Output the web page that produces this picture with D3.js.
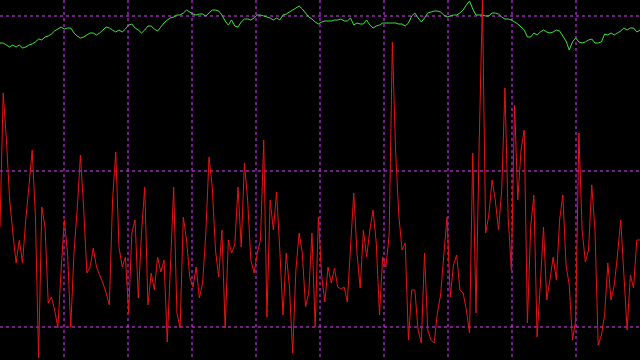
<!DOCTYPE html>
<html>
<head>
<meta charset="utf-8">
<script src="https://cdn.jsdelivr.net/npm/d3@7"></script>
<style>
  html, body { margin: 0; padding: 0; background: #000; }
  svg { display: block; }
</style>
</head>
<body>
<svg id="chart" width="640" height="360"></svg>
<script>
// Amplitude samples (arbitrary units); 200 evenly spaced samples over 10 divisions
const redSeries = [
  100,234,187,127,94,64,87,64,107,141,177,112,-31,120,100,24,30,17,-1,57,
  107,74,0,74,117,172,120,54,60,79,60,52,44,34,22,127,175,80,60,70,
  14,94,107,29,94,140,22,54,37,70,55,67,-15,60,140,14,-1,110,87,50,
  40,60,29,44,94,170,140,77,50,97,-1,87,74,82,140,80,164,127,67,54,
  74,87,187,10,127,97,135,77,12,74,40,-26,57,94,74,20,34,94,0,110,
  52,25,60,44,59,40,38,40,25,80,134,74,39,97,70,97,117,84,12,70,
  60,92,285,177,112,77,84,-13,37,37,-3,-16,74,-3,-13,-16,14,32,72,110,
  30,62,72,37,34,17,-6,174,14,184,327,94,112,147,127,97,137,239,110,57,
  222,127,177,197,4,100,132,-10,42,100,27,47,70,47,107,132,62,42,-13,7,
  194,97,65,77,142,97,-18,-8,12,64,27,42,72,107,52,-3,52,39,87,87
];
const greenSeries = [
  284,284,282,280,282,280,282,279,280,282,283,285,288,287,290,291,293,296,298,300,
  298,299,299,294,291,289,290,292,294,294,292,294,297,300,299,297,295,297,295,298,
  302,303,299,297,294,297,301,301,298,296,300,304,307,309,310,312,312,314,317,315,
  313,312,313,313,311,314,317,317,316,312,306,302,307,301,300,305,308,308,307,309,
  312,312,311,310,309,307,309,307,312,313,315,317,319,321,318,314,310,308,305,303,
  305,306,306,306,307,307,308,306,306,309,302,304,303,303,307,302,299,301,302,304,
  304,304,304,304,303,303,301,304,311,314,309,305,309,314,315,316,316,315,312,310,
  311,312,312,314,317,322,326,318,312,312,312,311,311,314,314,313,310,308,308,307,
  305,303,300,297,290,290,294,292,295,297,295,294,295,297,296,291,286,277,285,289,
  285,284,285,287,288,284,284,285,293,292,294,292,294,296,299,297,299,299,295,297
];
// Grid positions
const xDivisions = [1, 2, 3, 4, 5, 6, 7, 8, 9];
const yGridValues = [0, 156, 311];

const W = 640, H = 360;
const svg = d3.select("#chart");
svg.append("rect").attr("width", W).attr("height", H).attr("fill", "#000");

const divScale = d3.scaleLinear().domain([0, 10]).range([0, W]);
const N = redSeries.length;
const x = d3.scaleLinear().domain([0, N - 1]).range([0, W]);
const y = d3.scaleLinear().domain([-33, 327]).range([H, 0]);

const gridColor = "#e040ff";
const grid = svg.append("g");
grid.selectAll("line.v").data(xDivisions).enter().append("line")
  .attr("x1", d => divScale(d))
  .attr("x2", d => divScale(d))
  .attr("y1", 0).attr("y2", H)
  .attr("stroke", gridColor).attr("stroke-width", 1)
  .attr("stroke-dasharray", "3,3");
grid.selectAll("line.h").data(yGridValues).enter().append("line")
  .attr("y1", d => y(d))
  .attr("y2", d => y(d))
  .attr("x1", 0).attr("x2", W)
  .attr("stroke", gridColor).attr("stroke-width", 1)
  .attr("stroke-dasharray", "3,3");

const line = d3.line().x((d, i) => x(i)).y(d => y(d));

svg.append("path").datum(greenSeries)
  .attr("d", line).attr("fill", "none")
  .attr("stroke", "#3ce63c").attr("stroke-width", 1);

svg.append("path").datum(redSeries)
  .attr("d", line).attr("fill", "none")
  .attr("stroke", "#e61414").attr("stroke-width", 1);
</script>
</body>
</html>
